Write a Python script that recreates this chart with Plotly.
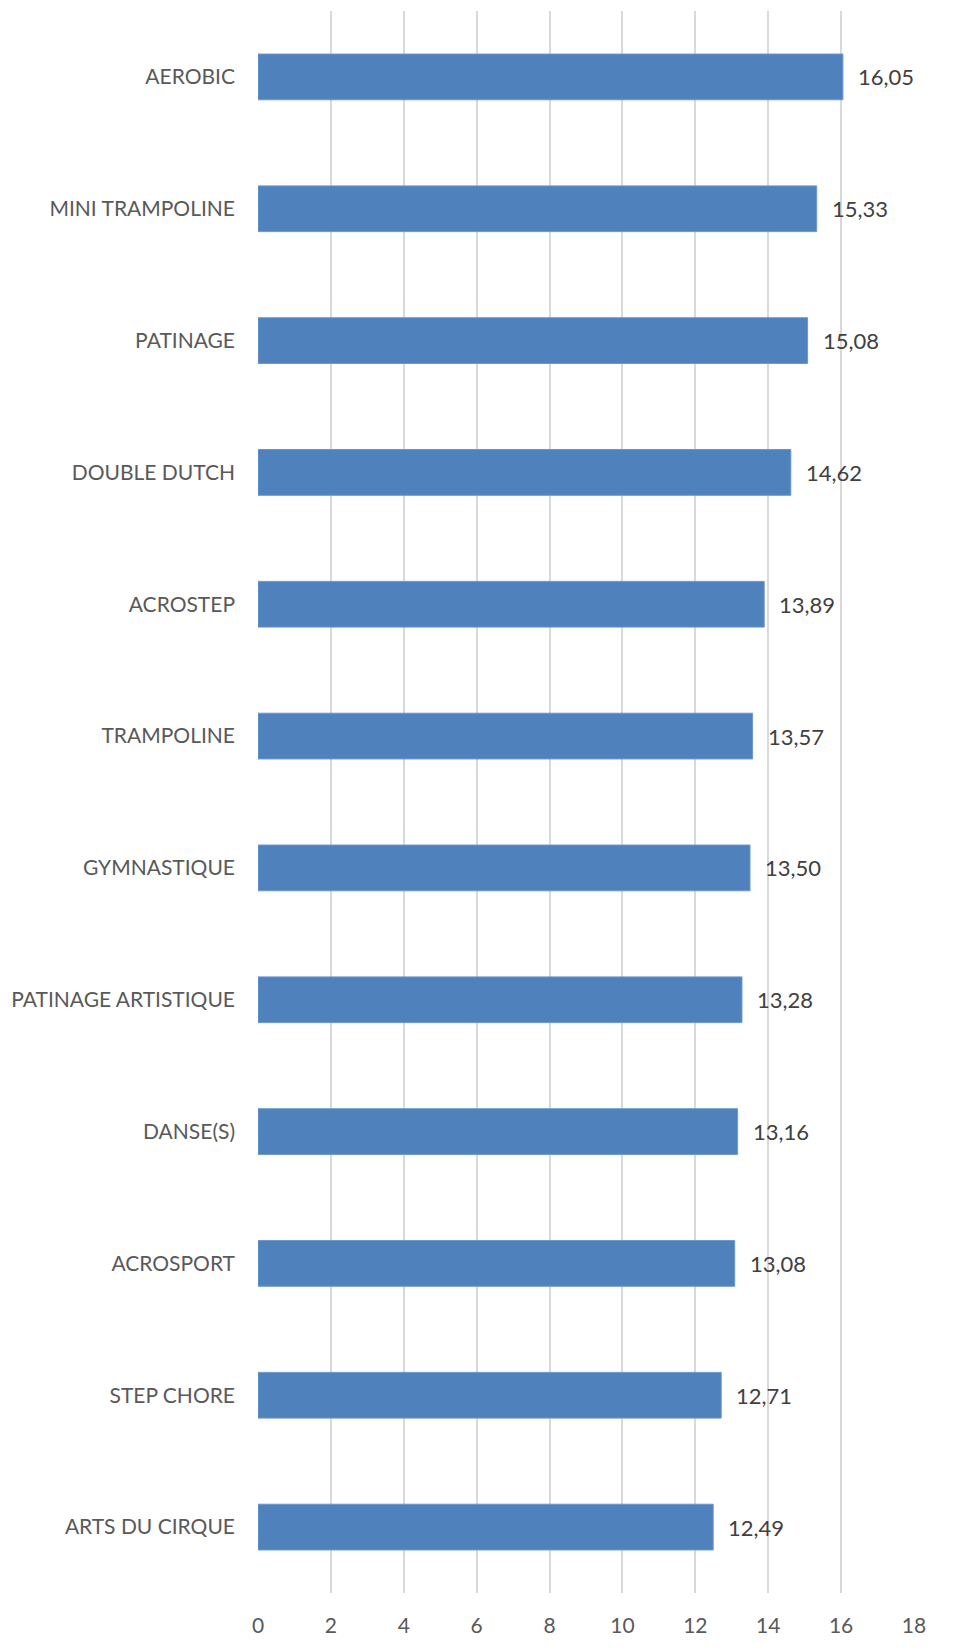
import plotly.graph_objects as go

categories = ["AEROBIC", "MINI TRAMPOLINE", "PATINAGE", "DOUBLE DUTCH", "ACROSTEP",
              "TRAMPOLINE", "GYMNASTIQUE", "PATINAGE ARTISTIQUE", "DANSE(S)",
              "ACROSPORT", "STEP CHORE", "ARTS DU CIRQUE"]
values = [16.05, 15.33, 15.08, 14.62, 13.89, 13.57, 13.50, 13.28, 13.16, 13.08, 12.71, 12.49]
tick_vals = [0, 2, 4, 6, 8, 10, 12, 14, 16, 18]

labels = [f"{v:.2f}".replace(".", ",") for v in values]

FONT = "Lato, 'Open Sans', sans-serif"

fig = go.Figure()
fig.add_trace(go.Bar(
    x=values, y=categories, orientation="h",
    marker=dict(color="#4F81BD", line=dict(color="#6B97CE", width=1)),
    hoverinfo="skip",
))

for v, c, t in zip(values, categories, labels):
    fig.add_annotation(x=v, y=c, text=t, showarrow=False, xanchor="left",
                       xshift=13, font=dict(family=FONT, size=22, color="#404040"))

n = len(categories)
fig.update_layout(
    width=954, height=1648,
    margin=dict(l=257, r=40, t=11, b=46),
    paper_bgcolor="white", plot_bgcolor="white",
    showlegend=False,
    bargap=0.653,
    font=dict(family=FONT, size=21, color="#595959"),
    xaxis=dict(range=[0, 18], tickvals=tick_vals, showgrid=True,
               gridcolor="#D9D9D9", gridwidth=2, zeroline=False,
               showline=False, ticks="", ticklabelstandoff=18,
               tickfont=dict(family=FONT, size=21, color="#595959")),
    yaxis=dict(categoryorder="array", categoryarray=categories,
               range=[n - 0.5, -0.5], showgrid=False, zeroline=False,
               showline=False, ticks="", ticklabelstandoff=22,
               tickfont=dict(family=FONT, size=21, color="#595959")),
)

fig.write_html("out.html", config={"displayModeBar": False},
               post_script="document.body.style.margin='0';document.body.style.overflow='hidden';")
